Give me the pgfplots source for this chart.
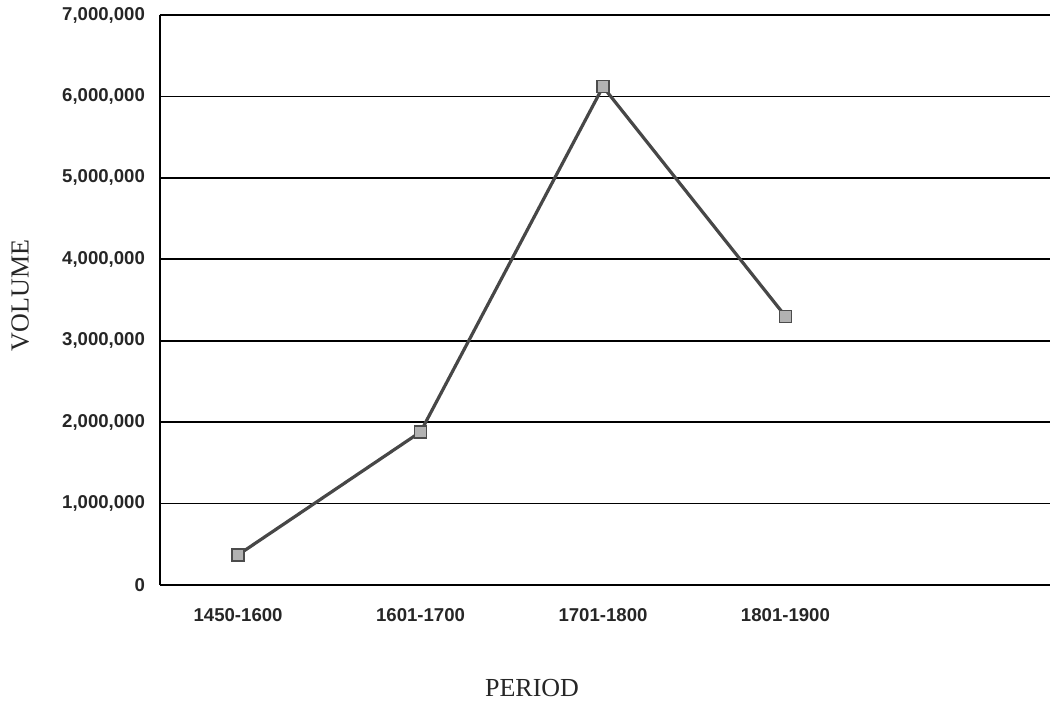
\documentclass[border=0pt]{standalone}
\usepackage{fontspec}
\setmainfont{Liberation Serif}
\newfontfamily\tickfont{Liberation Sans}
\usepackage{pgfplots}
\pgfplotsset{compat=1.18}
\begin{document}
\begin{tikzpicture}
\path[use as bounding box] (-80pt,-58.5pt) rectangle (446pt,292.5pt);
\begin{axis}[
  at={(0,0)}, anchor=south west,
  scale only axis,
  width=445pt, height=285pt,
  xmin=-0.428, xmax=4.45,
  ymin=0, ymax=7000000,
  xtick={0,1,2,3},
  xticklabels={1450-1600,1601-1700,1701-1800,1801-1900},
  ytick={0,1000000,2000000,3000000,4000000,5000000,6000000,7000000},
  scaled y ticks=false,
  /pgf/number format/.cd, fixed, 1000 sep={,}, assume math mode=true,
  /pgfplots/.cd,
  axis x line*=bottom, axis y line*=left,
  axis line style={black, line width=0.9pt, -},
  major tick length=0pt,
  ymajorgrids,
  grid style={black, line width=0.9pt},
  tick label style={font=\tickfont\fontsize{9.3}{10}\selectfont\bfseries, text=black!85},
  yticklabel style={xshift=-4pt},
  xticklabel style={yshift=-8pt},
  xlabel={PERIOD}, ylabel={VOLUME},
  every axis x label/.style={at={(axis description cs:0.418,-0.181)}, anchor=center, font=\fontsize{13}{15}\selectfont, text=black!85},
  every axis y label/.style={at={(axis description cs:-0.157,0.508)}, anchor=center, rotate=90, font=\fontsize{13}{15}\selectfont, text=black!85},
  clip=false,
]
\addplot[color=black!72, line width=1.6pt, mark=square*, mark size=3pt,
  mark options={fill=black!30, draw=black!70, line width=0.7pt}]
  coordinates {(0,370000) (1,1880000) (2,6120000) (3,3300000)};
\draw[black, line width=0.9pt] (axis cs:-0.428,7000000) -- (axis cs:4.45,7000000);
\end{axis}
\end{tikzpicture}
\end{document}
